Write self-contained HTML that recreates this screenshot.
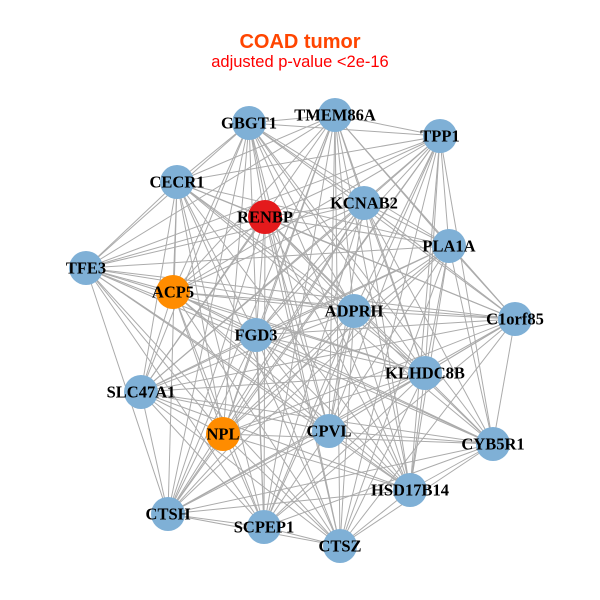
<!DOCTYPE html>
<html><head><meta charset="utf-8"><style>
html,body{margin:0;padding:0;background:#fff;}
svg{display:block}
</style></head><body>
<svg id="s" width="600" height="600" xmlns="http://www.w3.org/2000/svg">
<rect width="600" height="600" fill="#fff"/>
<text x="300" y="48" text-anchor="middle" font-family="Liberation Sans, sans-serif" font-weight="bold" font-size="20" fill="#ff4500">COAD tumor</text>
<text x="300" y="67" text-anchor="middle" font-family="Liberation Sans, sans-serif" font-size="16.5" fill="#ff0000">adjusted p-value &lt;2e-16</text>
<g id="e" stroke="#ababab" stroke-width="1"></g>
<g id="n"></g>
</svg>
<script>
var N=[["GBGT1",249,123,"#7fb0d6"],["TMEM86A",335,115,"#7fb0d6"],["TPP1",440,136,"#7fb0d6"],["CECR1",177,182,"#7fb0d6"],["KCNAB2",364,203,"#7fb0d6"],["RENBP",265,217,"#e41a1c"],["PLA1A",449,246,"#7fb0d6"],["TFE3",86,268,"#7fb0d6"],["ACP5",173,292,"#ff8c00"],["ADPRH",354,311,"#7fb0d6"],["C1orf85",515,319,"#7fb0d6"],["FGD3",256,335,"#7fb0d6"],["KLHDC8B",425,373,"#7fb0d6"],["SLC47A1",141,392,"#7fb0d6"],["NPL",223,434,"#ff8c00"],["CPVL",329,431,"#7fb0d6"],["CYB5R1",493,444,"#7fb0d6"],["HSD17B14",410,490,"#7fb0d6"],["CTSH",168,514,"#7fb0d6"],["SCPEP1",264,527,"#7fb0d6"],["CTSZ",340,546,"#7fb0d6"]];
var ns="http://www.w3.org/2000/svg",E=document.getElementById("e"),G=document.getElementById("n");
for(var i=0;i<N.length;i++)for(var j=i+1;j<N.length;j++){
 if((i*7+j*3)%11==0)continue;
 var l=document.createElementNS(ns,"line");
 l.setAttribute("x1",N[i][1]);l.setAttribute("y1",N[i][2]);l.setAttribute("x2",N[j][1]);l.setAttribute("y2",N[j][2]);E.appendChild(l);}
N.forEach(function(d){var c=document.createElementNS(ns,"circle");c.setAttribute("cx",d[1]);c.setAttribute("cy",d[2]);c.setAttribute("r",17);c.setAttribute("fill",d[3]);G.appendChild(c);});
N.forEach(function(d){var t=document.createElementNS(ns,"text");t.setAttribute("x",d[1]);t.setAttribute("y",d[2]+5.5);t.setAttribute("text-anchor","middle");t.setAttribute("font-family","Liberation Serif, serif");t.setAttribute("font-weight","bold");t.setAttribute("font-size","16.5");t.textContent=d[0];G.appendChild(t);});
</script>
</body></html>
